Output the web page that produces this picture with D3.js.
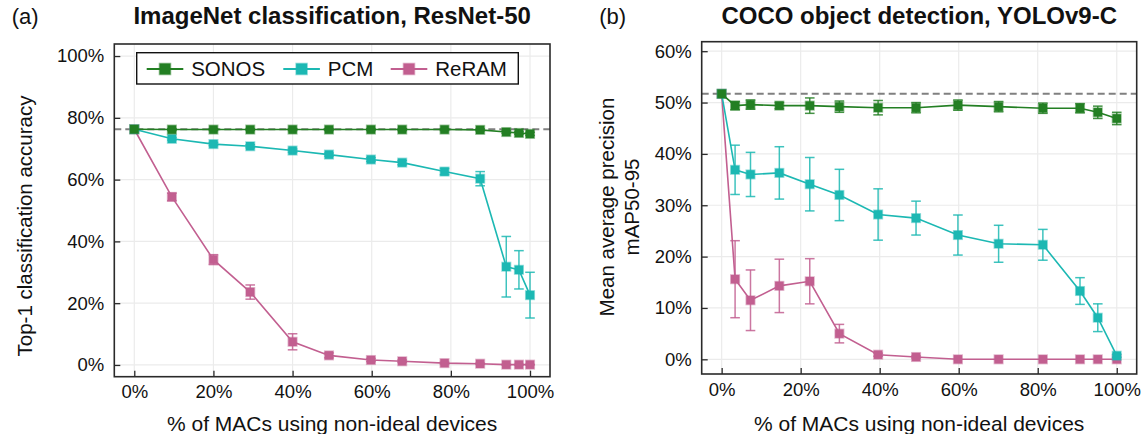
<!DOCTYPE html>
<html>
<head>
<meta charset="utf-8">
<script src="https://cdn.jsdelivr.net/npm/d3@7/dist/d3.min.js"></script>
<style>
  body { margin: 0; background: #fff; }
  svg { display: block; font-family: "Liberation Sans", Arial, sans-serif; }
</style>
</head>
<body>
<div id="chart"></div>
<script>
// ---- data: panel (a) ImageNet / ResNet-50 ----
const xA = [0, 9.5, 20, 29.3, 40, 49.2, 59.8, 67.7, 78.4, 87.4, 94, 97.2, 100];
const sonosA = [76.3, 76.2, 76.2, 76.2, 76.2, 76.2, 76.2, 76.2, 76.2, 76.1, 75.4, 75.1, 74.8];
const sonosAErr = [0, 0.3, 0.3, 0.3, 0.3, 0.3, 0.3, 0.3, 0.3, 0.3, 0.4, 0.4, 0.5];
const pcmA = [76.3, 73.2, 71.5, 70.8, 69.4, 68.1, 66.5, 65.5, 62.6, 60.3, 31.8, 30.8, 22.6];
const pcmAErr = [0, 0.4, 0.5, 0.5, 0.5, 0.5, 0.6, 0.7, 1.0, 2.3, 9.8, 6.2, 7.4];
const reramA = [76.3, 54.4, 34.1, 23.6, 7.5, 3.1, 1.6, 1.2, 0.6, 0.4, 0.1, 0.1, 0.1];
const reramAErr = [0, 1.2, 1.6, 2.3, 2.6, 0.8, 0.5, 0.4, 0.3, 0.2, 0.1, 0.1, 0.1];
const baselineA = 76.3;

// ---- data: panel (b) COCO / YOLOv9-C ----
const xB = [0, 3.4, 7.3, 14.6, 22.3, 29.8, 39.6, 49.2, 59.8, 70.1, 81.3, 90.7, 95.2, 100];
const sonosB = [51.7, 49.4, 49.6, 49.4, 49.4, 49.2, 49.0, 49.0, 49.5, 49.2, 48.9, 48.9, 48.1, 46.9];
const sonosBErr = [0, 0.8, 0.9, 0.6, 1.5, 1.1, 1.4, 1.0, 1.0, 1.0, 1.0, 0.9, 1.2, 1.2];
const pcmB = [51.7, 36.9, 36.0, 36.3, 34.1, 32.0, 28.2, 27.5, 24.2, 22.5, 22.3, 13.3, 8.1, 0.7];
const pcmBErr = [0, 4.8, 4.3, 5.1, 5.2, 5.0, 5.0, 3.3, 3.9, 3.6, 3.0, 2.6, 2.7, 0.3];
const reramB = [51.7, 15.6, 11.5, 14.3, 15.2, 5.0, 0.9, 0.45, 0, 0, 0, 0, 0, 0];
const reramBErr = [0, 7.5, 5.9, 5.2, 4.4, 1.8, 0.3, 0.2, 0, 0, 0, 0, 0, 0];
const baselineB = 51.7;

// ---- labels / ticks ----
const seriesNames = ['SONOS', 'PCM', 'ReRAM'];
const seriesColors = ['#237f23', '#1cb8b3', '#c25f90'];
const xTicks = [0, 20, 40, 60, 80, 100];
const yTicksA = [0, 20, 40, 60, 80, 100];
const yTicksB = [0, 10, 20, 30, 40, 50, 60];
const xLabel = '% of MACs using non-ideal devices';

// Layout knobs (pixel positions of the two plot frames)
const W = 1146, H = 434;
const panels = [
  {
    tag: '(a)', title: 'ImageNet classification, ResNet-50',
    yLabel: ['Top-1 classification accuracy'], yLabelX: [32], yLabelY: 226,
    frame: { left: 114.3, right: 550, top: 44, bottom: 376.7 },
    xDomain: [-5.05, 105.05], yDomain: [-3.8, 103.9], yTicks: yTicksA,
    x: xA, series: [sonosA, pcmA, reramA], errs: [sonosAErr, pcmAErr, reramAErr],
    baseline: baselineA, legend: true
  },
  {
    tag: '(b)', title: 'COCO object detection, YOLOv9-C',
    yLabel: ['Mean average precision', 'mAP50-95'], yLabelX: [614, 639], yLabelY: 207,
    frame: { left: 701.7, right: 1136.7, top: 41.7, bottom: 374 },
    xDomain: [-5.05, 105.05], yDomain: [-2.86, 61.85], yTicks: yTicksB,
    x: xB, series: [sonosB, pcmB, reramB], errs: [sonosBErr, pcmBErr, reramBErr],
    baseline: baselineB, legend: false
  }
];

const svg = d3.select('#chart').append('svg')
  .attr('width', W).attr('height', H)
  .attr('viewBox', `0 0 ${W} ${H}`);

const textColor = '#111';
const gridColor = '#ebebeb';
const frameColor = '#2a2a2a';
const pct = (d) => `${d}%`;

function drawMarker(g, cx, cy, size, color) {
  g.append('rect')
    .attr('x', cx - size / 2).attr('y', cy - size / 2)
    .attr('width', size).attr('height', size)
    .attr('fill', color)
    .attr('stroke', color).attr('stroke-opacity', 0.45).attr('stroke-width', 1.6);
}

panels.forEach((p) => {
  const f = p.frame;
  const x = d3.scaleLinear().domain(p.xDomain).range([f.left, f.right]);
  const y = d3.scaleLinear().domain(p.yDomain).range([f.bottom, f.top]);
  const g = svg.append('g');

  /* Grid */
  g.append('g').selectAll('line').data(xTicks).join('line')
    .attr('x1', (d) => x(d)).attr('x2', (d) => x(d))
    .attr('y1', f.top).attr('y2', f.bottom)
    .attr('stroke', gridColor).attr('stroke-width', 1.2);
  g.append('g').selectAll('line').data(p.yTicks).join('line')
    .attr('x1', f.left).attr('x2', f.right)
    .attr('y1', (d) => y(d)).attr('y2', (d) => y(d))
    .attr('stroke', gridColor).attr('stroke-width', 1.2);

  /* Axes, ticks point inward */
  const xAxis = g.append('g')
    .attr('transform', `translate(0,${f.bottom})`)
    .call(d3.axisBottom(x).tickValues(xTicks).tickFormat(pct).tickSize(-6).tickPadding(8.5));
  const yAxis = g.append('g')
    .attr('transform', `translate(${f.left},0)`)
    .call(d3.axisLeft(y).tickValues(p.yTicks).tickFormat(pct).tickSize(-6).tickPadding(10));
  [xAxis, yAxis].forEach((ax) => {
    ax.select('.domain').remove();
    ax.selectAll('line').attr('stroke', frameColor).attr('stroke-width', 1.3);
    ax.selectAll('text').attr('fill', textColor).attr('font-size', 18.5)
      .attr('font-family', '"Liberation Sans", Arial, sans-serif');
  });

  /* Reference (ideal) accuracy */
  g.append('line')
    .attr('x1', f.left).attr('x2', f.right)
    .attr('y1', y(p.baseline)).attr('y2', y(p.baseline))
    .attr('stroke', '#808080').attr('stroke-width', 2)
    .attr('stroke-dasharray', '7,4');

  /* Series: draw ReRAM first so SONOS sits on top */
  const line = d3.line().x((d) => x(d.x)).y((d) => y(d.v));
  [2, 1, 0].forEach((si) => {
    const color = seriesColors[si];
    const pts = p.x.map((xv, i) => ({ x: xv, v: p.series[si][i], e: p.errs[si][i] }));
    const sg = g.append('g');
    sg.append('path').datum(pts)
      .attr('fill', 'none').attr('stroke', color).attr('stroke-width', 1.6)
      .attr('d', line);
    pts.filter((d) => d.e > 0).forEach((d) => {
      const cx = x(d.x), y1 = y(d.v - d.e), y2 = y(d.v + d.e);
      const eb = sg.append('g').attr('stroke', color).attr('stroke-width', 1.5).attr('stroke-opacity', 0.85);
      eb.append('line').attr('x1', cx).attr('x2', cx).attr('y1', y1).attr('y2', y2);
      eb.append('line').attr('x1', cx - 4.8).attr('x2', cx + 4.8).attr('y1', y1).attr('y2', y1);
      eb.append('line').attr('x1', cx - 4.8).attr('x2', cx + 4.8).attr('y1', y2).attr('y2', y2);
    });
    pts.forEach((d) => drawMarker(sg, x(d.x), y(d.v), 8.5, color));
  });

  /* Frame */
  g.append('rect')
    .attr('x', f.left).attr('y', f.top)
    .attr('width', f.right - f.left).attr('height', f.bottom - f.top)
    .attr('fill', 'none').attr('stroke', frameColor).attr('stroke-width', 1.6);

  /* Titles */
  const cx = (f.left + f.right) / 2;
  svg.append('text')
    .attr('x', cx).attr('y', 24).attr('text-anchor', 'middle')
    .attr('font-size', 24).attr('font-weight', 700).attr('fill', textColor)
    .text(p.title);
  svg.append('text')
    .attr('x', f.left - 102.5).attr('y', 24)
    .attr('font-size', 22).attr('fill', textColor)
    .text(p.tag);
  svg.append('text')
    .attr('x', cx).attr('y', 431).attr('text-anchor', 'middle')
    .attr('font-size', 21).attr('fill', textColor)
    .text(xLabel);

  p.yLabel.forEach((t, i) => {
    svg.append('text')
      .attr('transform', `translate(${p.yLabelX[i]},${p.yLabelY}) rotate(-90)`)
      .attr('text-anchor', 'middle')
      .attr('font-size', 20.5).attr('fill', textColor)
      .text(t);
  });

  /* Legend */
  if (p.legend) {
    const lg = svg.append('g');
    lg.append('rect')
      .attr('x', 136.7).attr('y', 52.7).attr('width', 381.6).attr('height', 31.3)
      .attr('fill', '#fff').attr('stroke', '#111').attr('stroke-width', 1.4);
    const entryX = [146.7, 283.3, 390.7];
    const ly = 69;
    seriesNames.forEach((name, i) => {
      const x0 = entryX[i];
      lg.append('line')
        .attr('x1', x0).attr('x2', x0 + 36.6).attr('y1', ly).attr('y2', ly)
        .attr('stroke', seriesColors[i]).attr('stroke-width', 2);
      drawMarker(lg, x0 + 18.3, ly, 11, seriesColors[i]);
      lg.append('text')
        .attr('x', x0 + 44.5).attr('y', ly + 7.4)
        .attr('font-size', 20.5).attr('fill', textColor)
        .text(name);
    });
  }
});
</script>
</body>
</html>
